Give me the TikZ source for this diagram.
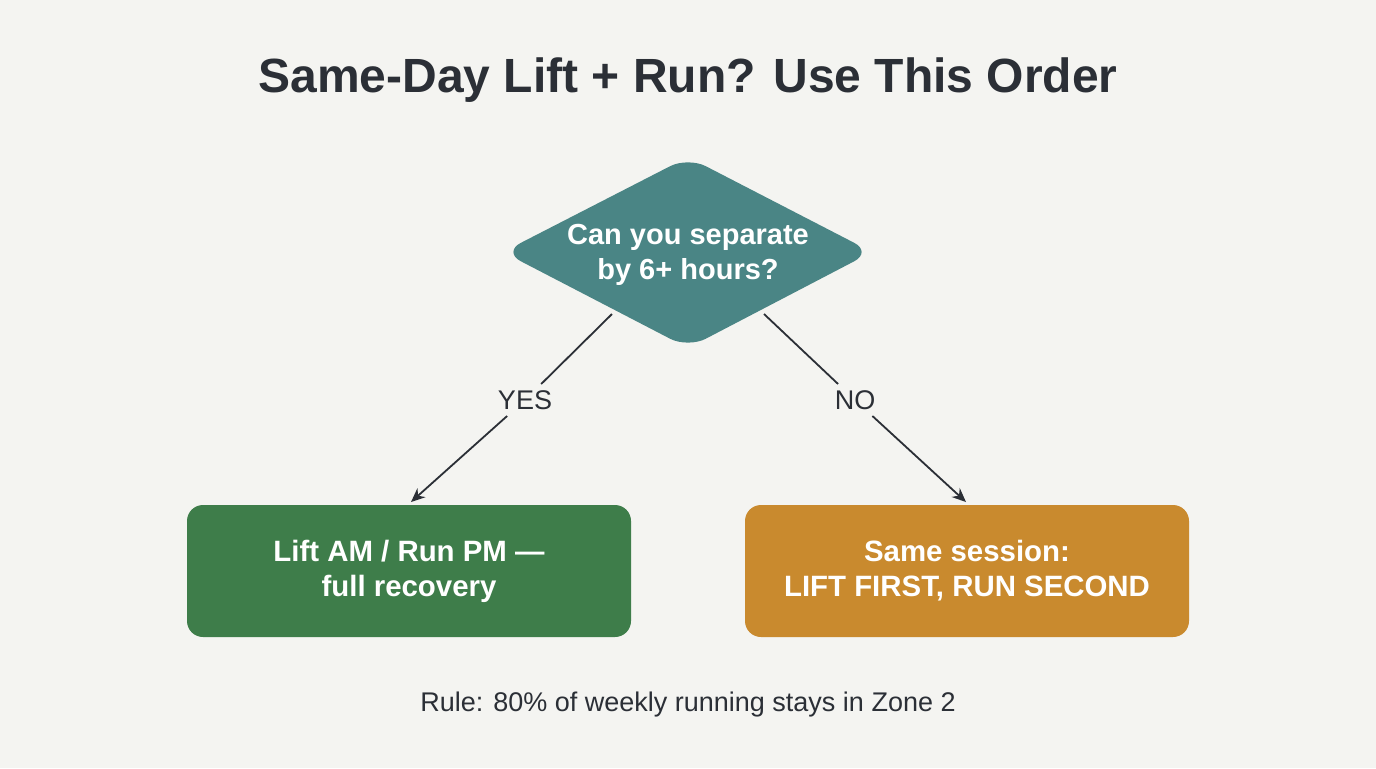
\documentclass[tikz,border=0pt]{standalone}
\usepackage{fontspec}
\setmainfont{Liberation Sans}
\usetikzlibrary{shapes.geometric,arrows.meta}
\definecolor{bg}{HTML}{F4F4F1}
\definecolor{ink}{HTML}{2B2F36}
\definecolor{teal}{HTML}{4A8585}
\definecolor{grn}{HTML}{3E7D4A}
\definecolor{org}{HTML}{C98A2E}
\begin{document}
\begin{tikzpicture}[x=0.5pt,y=-0.5pt,
  box/.style={draw=none,rounded corners=8pt,minimum width=222pt,minimum height=66pt,text=white,font=\bfseries\fontsize{14.7}{17.5}\selectfont,align=center},
  lbl/.style={text=ink,font=\fontsize{13.5}{16}\selectfont,inner sep=3pt},
  conn/.style={draw=ink,line width=0.9pt},
  arr/.style={conn,-{Stealth[length=7pt,width=6pt]}}]
\fill[bg] (0,0) rectangle (1376,768);
\useasboundingbox (0,0) rectangle (1376,768);
\node[text=ink,font=\bfseries\fontsize{24}{28}\selectfont] (title) at (688,80) {Same-Day Lift + Run? Use This Order};
\fill[teal,rounded corners=10pt] (688,157) -- (872,252) -- (688,348) -- (503,252) -- cycle;
\node[text=white,font=\bfseries\fontsize{14.5}{17.5}\selectfont,align=center] (d) at (688,255) {Can you separate\\by 6+ hours?};
\coordinate (dl) at (612,314);
\coordinate (dr) at (764,314);
\node[box,fill=grn] (a) at (409,571) {Lift AM / Run PM —\\full recovery};
\node[box,fill=org] (b) at (967,571) {Same session:\\LIFT FIRST, RUN SECOND};
\node[lbl] (yes) at (525,400) {YES};
\node[lbl] (no) at (855,400) {NO};
\draw[conn] (dl) -- (yes);
\draw[arr] (yes) -- (411,502) coordinate (ta);
\draw[conn] (dr) -- (no);
\draw[arr] (no) -- (966,502) coordinate (tb);
\node[lbl] (rule) at (688,705) {Rule: 80\% of weekly running stays in Zone 2};
\end{tikzpicture}
\end{document}
